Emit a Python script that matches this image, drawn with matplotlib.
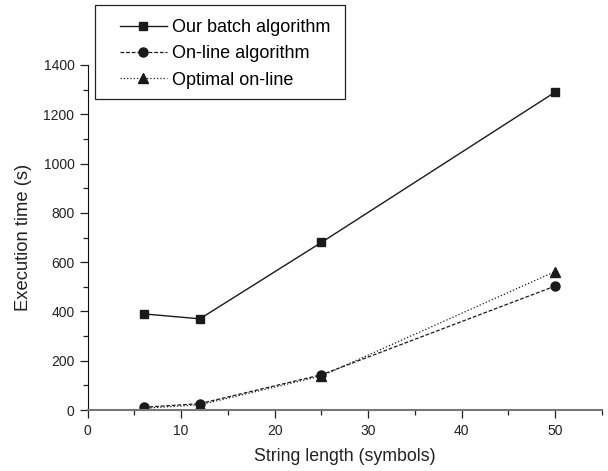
import matplotlib.pyplot as plt
from matplotlib.patches import Rectangle
from matplotlib.ticker import MultipleLocator

plt.rcParams['font.family'] = ['Liberation Sans', 'DejaVu Sans']

# string length (symbols)
lengths = [6, 12, 25, 50]
# execution time (s)
batch = [390, 370, 680, 1290]
online = [11, 26, 143, 503]
optimal = [7, 21, 138, 562]

labels = ['Our batch algorithm', 'On-line algorithm', 'Optimal on-line']

W, H = 608, 471
fig = plt.figure(figsize=(W/100, H/100), dpi=100)
ax = fig.add_axes([0.1442, 0.1295, 0.8458, 0.7325])

c = '#1a1a1a'
ax.plot(lengths, batch, '-', color=c, lw=1.0, marker='s', ms=6, label=labels[0])
ax.plot(lengths, online, '--', color=c, lw=0.9, marker='o', ms=6.5,
	dashes=(3, 1.5), label=labels[1])
ax.plot(lengths, optimal, ':', color=c, lw=0.9, marker='^', ms=6.5, label=labels[2])

ax.set_xlim(0, 55)
ax.set_ylim(0, 1400)
ax.xaxis.set_major_locator(MultipleLocator(10))
ax.xaxis.set_minor_locator(MultipleLocator(5))
ax.yaxis.set_major_locator(MultipleLocator(200))
ax.yaxis.set_minor_locator(MultipleLocator(100))

for s in ['top', 'right']:
	ax.spines[s].set_visible(False)
ax.spines['left'].set_color('#111111')
ax.spines['bottom'].set_color('#777777')
ax.spines['bottom'].set_linewidth(1.5)
ax.tick_params(which='major', direction='out', length=6, width=0.9, labelsize=10, colors='#222222')
ax.tick_params(which='minor', direction='out', length=3.5, width=0.9, colors='#222222')
ax.tick_params(axis='x', pad=4)

ax.set_xlabel('String length (symbols)', fontsize=12.8, color='#222222', labelpad=7)
ax.set_ylabel('Execution time (s)', fontsize=13.2, color='#222222', labelpad=8)

# legend frame drawn separately so the padding matches the original
box = Rectangle((95/W, 1 - 99/H), 250/W, 94/H, transform=fig.transFigure,
	facecolor='white', edgecolor='#222222', lw=0.9, zorder=3)
fig.patches.append(box)

leg = fig.legend(loc='upper left', bbox_to_anchor=(120/W, 1 - 19/H),
	fontsize=13, handlelength=2.6, handletextpad=0.3, labelspacing=0.52,
	borderpad=0, frameon=False, borderaxespad=0)
leg.set_zorder(4)

fig.savefig('out.png', dpi=100)
